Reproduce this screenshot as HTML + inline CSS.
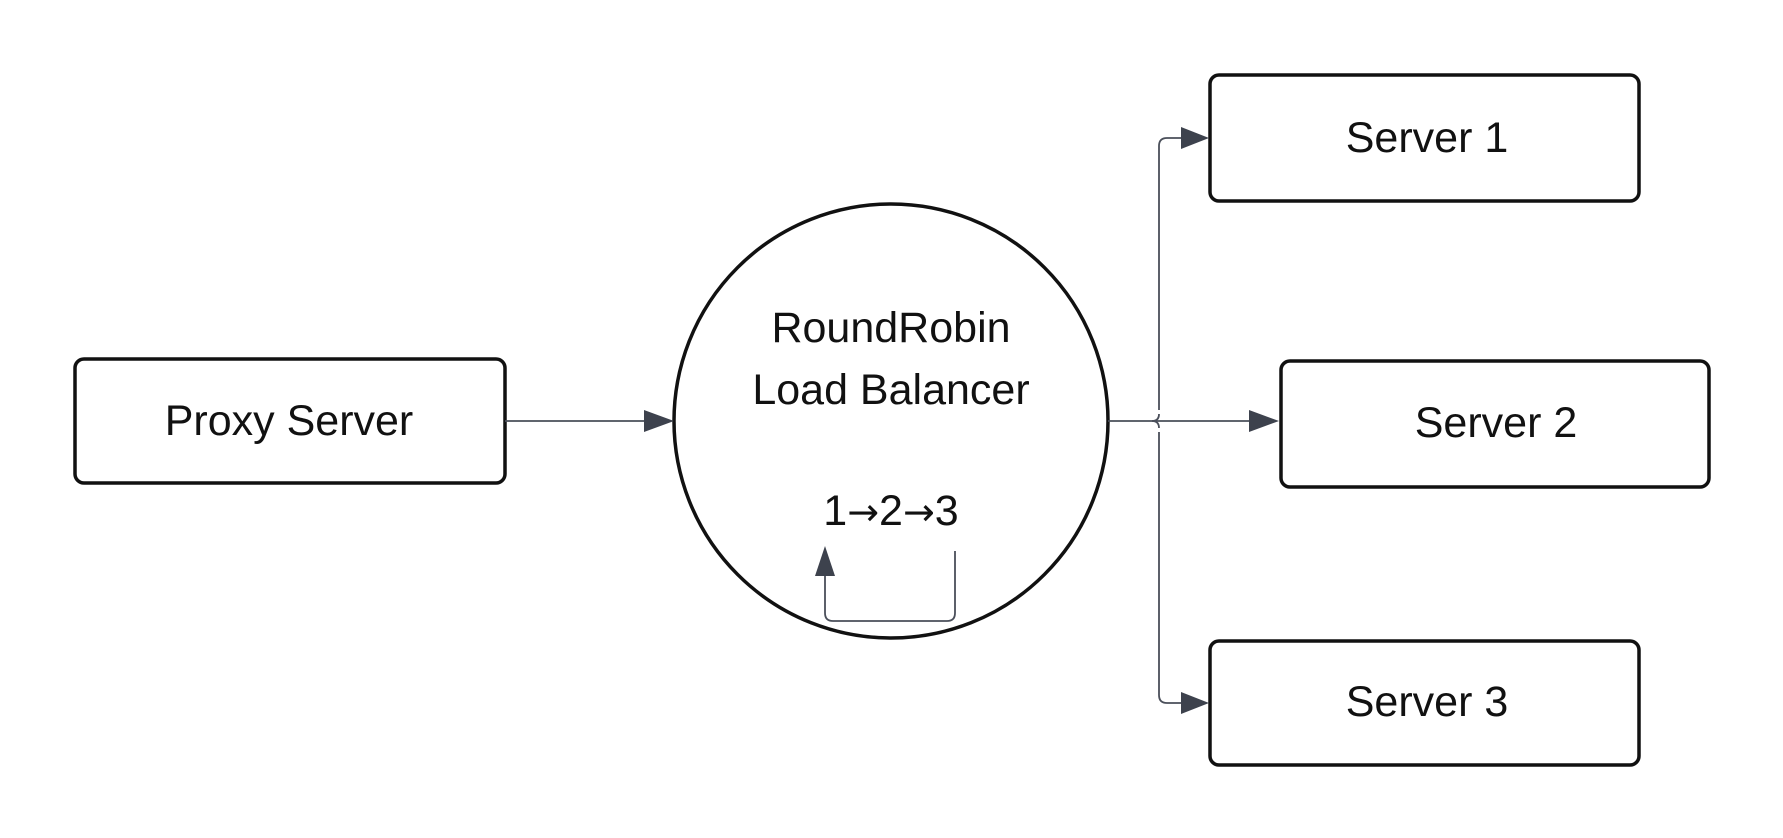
<!DOCTYPE html>
<html><head><meta charset="utf-8"><style>
html,body{margin:0;padding:0;background:#fff;}
svg{display:block}
text{font-family:"Liberation Sans",sans-serif;font-size:43px;fill:#111;text-anchor:middle;}
.ar{font-family:"DejaVu Sans",sans-serif;font-size:38px;}
</style></head><body>
<svg width="1783" height="838" viewBox="0 0 1783 838" xmlns="http://www.w3.org/2000/svg">
<g fill="#fff" stroke="#111" stroke-width="3.5">
<rect x="75" y="359" width="430" height="124" rx="9"/>
<circle cx="891" cy="421" r="217"/>
<rect x="1210" y="75" width="429" height="126" rx="9"/>
<rect x="1281" y="361" width="428" height="126" rx="9"/>
<rect x="1210" y="641" width="429" height="124" rx="9"/>
</g>
<g fill="none" stroke="#4a4f5a" stroke-width="1.8">
<line x1="505" y1="421" x2="648" y2="421"/>
<line x1="1108" y1="421" x2="1256" y2="421"/>
<path d="M1159 410 V146 Q1159 138 1167 138 H1186"/>
<path d="M1159 432 V695 Q1159 703 1167 703 H1186"/>
<path d="M1152 421 Q1159 421 1159 414"/>
<path d="M1152 421 Q1159 421 1159 428"/>
<path d="M825 575 V613 Q825 621 833 621 H947 Q955 621 955 613 V551"/>
</g>
<g fill="#3d424d">
<polygon points="674,421 644,410 644,432"/>
<polygon points="1279,421 1249,410 1249,432"/>
<polygon points="1209,138 1181,127 1181,149"/>
<polygon points="1209,703 1181,692 1181,714"/>
<polygon points="825,546 815,576 835,576"/>
</g>
<text x="289" y="435">Proxy Server</text>
<text x="891" y="342">RoundRobin</text>
<text x="891" y="404">Load Balancer</text>
<text x="891" y="525">1<tspan class="ar">→</tspan>2<tspan class="ar">→</tspan>3</text>
<text x="1427" y="152">Server 1</text>
<text x="1496" y="437">Server 2</text>
<text x="1427" y="716">Server 3</text>
</svg>
</body></html>
